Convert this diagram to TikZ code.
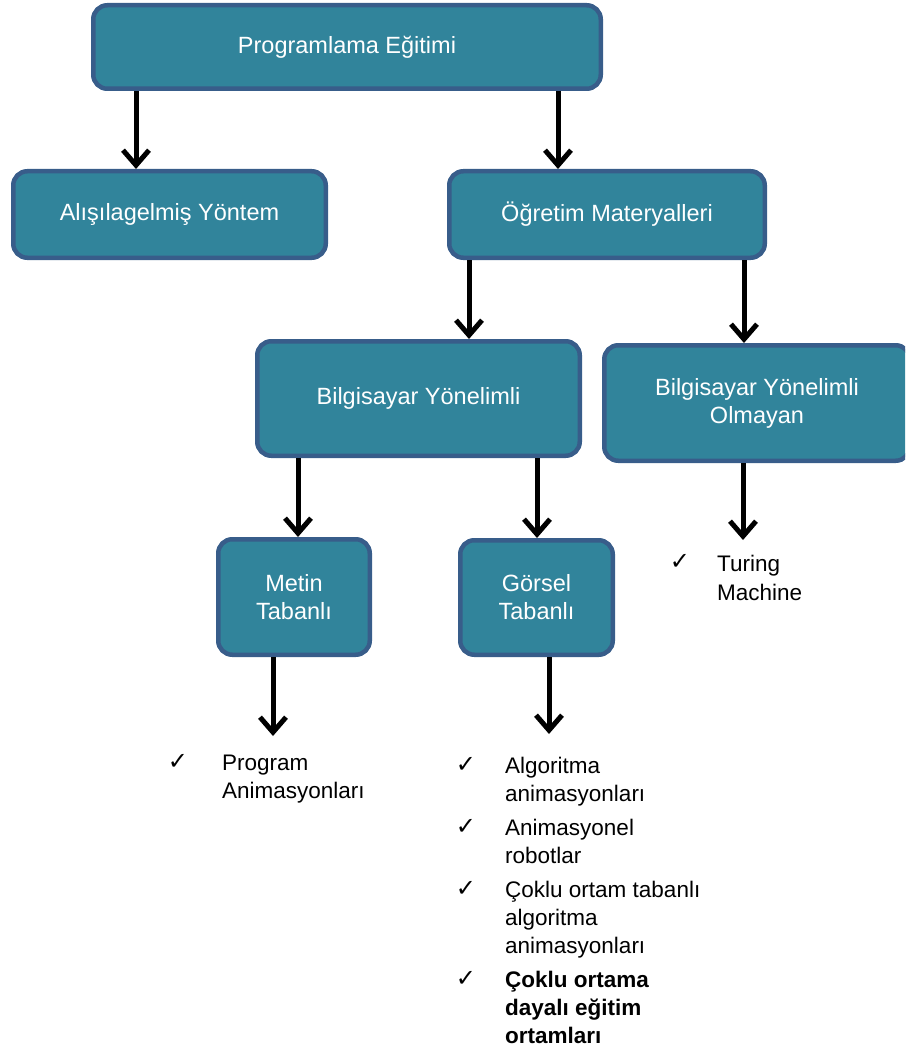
\documentclass[tikz,border=0pt]{standalone}
\usepackage{fontspec}
\setmainfont{Liberation Sans}
\newfontfamily\symfont{DejaVu Sans}
\usetikzlibrary{arrows.meta}
\definecolor{boxfill}{RGB}{49,132,155}
\definecolor{boxline}{RGB}{56,93,138}
\begin{document}
\begin{tikzpicture}[x=1pt,y=-1pt,
  box/.style={draw=boxline, fill=boxfill, line width=4.5pt, rounded corners=14pt,
    text=white, font=\fontsize{23.5}{28}\selectfont, align=center, inner sep=0pt},
  arr/.style={line width=5pt, -{Straight Barb[length=15pt,width=26pt]}},
  listline/.style={anchor=base west, inner sep=0pt, font=\fontsize{22.5}{28}\selectfont},
  checkmark/.style={anchor=center, inner sep=0pt, font=\symfont\fontsize{24}{26}\selectfont}]
\useasboundingbox (0,0) rectangle (905,1059);
\clip (0,0) rectangle (905,1059);

% boxes of the tree
\node[box, minimum width=507.5pt, minimum height=83.5pt] (prog) at (347,47) {Programlama Eğitimi};
\node[box, minimum width=312.5pt, minimum height=86.5pt] (alis) at (169.5,214.5) {Alışılagelmiş Yöntem};
\node[box, minimum width=315.5pt, minimum height=86.5pt] (ogr) at (607,214.5) {Öğretim Materyalleri};
\node[box, minimum width=322.5pt, minimum height=114.5pt] (bil) at (418.5,398.5) {Bilgisayar Yönelimli};
\node[box, minimum width=305.5pt, minimum height=115.5pt] (bilo) at (757,403) {Bilgisayar Yönelimli\\Olmayan};
\node[box, minimum width=151.5pt, minimum height=115.5pt] (metin) at (294,597) {Metin\\Tabanlı};
\node[box, minimum width=152.5pt, minimum height=114.5pt] (gorsel) at (536.5,597.5) {Görsel\\Tabanlı};

% lists of examples
\node[checkmark] (ck1) at (680,562) {✓};
\node[listline] (tu1) at (717,571) {Turing};
\node[listline] (tu2) at (717,600) {Machine};

\node[checkmark] (ck2) at (178,762) {✓};
\node[listline] (pa1) at (222,770) {Program};
\node[listline] (pa2) at (222,798) {Animasyonları};

\node[checkmark] (ck3) at (466,765) {✓};
\node[listline] (ga1) at (505,773) {Algoritma};
\node[listline] (ga2) at (505,801) {animasyonları};
\node[checkmark] (ck4) at (466,827) {✓};
\node[listline] (gb1) at (505,835) {Animasyonel};
\node[listline] (gb2) at (505,863) {robotlar};
\node[checkmark] (ck5) at (466,889) {✓};
\node[listline] (gc1) at (505,897) {Çoklu ortam tabanlı};
\node[listline] (gc2) at (505,925) {algoritma};
\node[listline] (gc3) at (505,953) {animasyonları};
\node[checkmark] (ck6) at (466,979) {✓};
\node[listline, font=\fontsize{22.5}{28}\selectfont\bfseries] (gd1) at (505,987) {Çoklu ortama};
\node[listline, font=\fontsize{22.5}{28}\selectfont\bfseries] (gd2) at (505,1015) {dayalı eğitim};
\node[listline, font=\fontsize{22.5}{28}\selectfont\bfseries] (gd3) at (505,1043) {ortamları};

% free ends of the arrows that point at the lists
\coordinate (tuend) at (743,540);
\coordinate (paend) at (273,736);
\coordinate (gaend) at (549,734);

% connectors
\draw[arr] (136,0 |- prog.south) -- (136,0 |- alis.north);
\draw[arr] (558,0 |- prog.south) -- (558,0 |- ogr.north);
\draw[arr] (469,0 |- ogr.south) -- (469,0 |- bil.north);
\draw[arr] (744,0 |- ogr.south) -- (744,0 |- bilo.north);
\draw[arr] (298,0 |- bil.south) -- (298,0 |- metin.north);
\draw[arr] (537,0 |- bil.south) -- (537,0 |- gorsel.north);
\draw[arr] (tuend |- bilo.south) -- (tuend);
\draw[arr] (paend |- metin.south) -- (paend);
\draw[arr] (gaend |- gorsel.south) -- (gaend);
\end{tikzpicture}
\end{document}
